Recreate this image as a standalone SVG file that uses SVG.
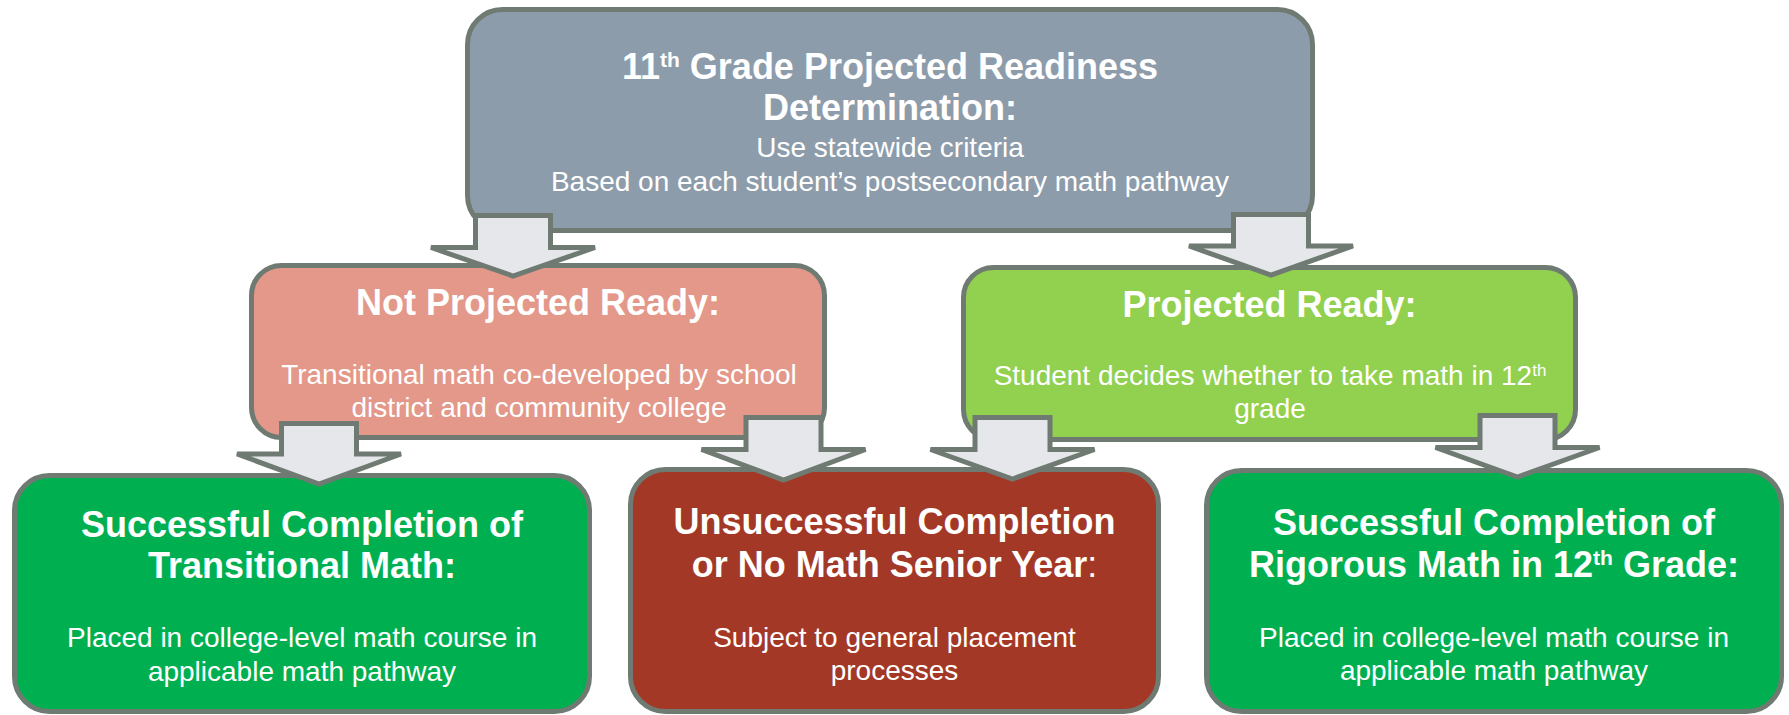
<svg xmlns="http://www.w3.org/2000/svg" width="1789" height="715" viewBox="0 0 1789 715">
<style>
.box{stroke:#6F7B72;stroke-width:5}
.arrow{fill:#E6E7EB;stroke:#6F7B72;stroke-width:5;stroke-linejoin:miter}
text{font-family:"Liberation Sans",Arial,sans-serif;fill:#FFFFFF;text-anchor:middle}
.t{font-size:36px;font-weight:bold}
.b{font-size:28px}
</style>
<rect width="1789" height="715" fill="#FFFFFF"/>
<g id="node-top">
<rect class="box" x="467.5" y="9.5" width="845" height="221" rx="35" fill="#8D9CAB"/>
<text class="t" x="890" y="79">11<tspan font-size="21" dy="-12">th</tspan><tspan dy="12"> Grade Projected Readiness</tspan></text>
<text class="t" x="890" y="120">Determination:</text>
<text class="b" x="890" y="157">Use statewide criteria</text>
<text class="b" x="890" y="191">Based on each student’s postsecondary math pathway</text>
</g>
<g id="node-not-ready">
<rect class="box" x="251.5" y="265.5" width="573" height="172" rx="30" fill="#E3988A"/>
<text class="t" x="538" y="315">Not Projected Ready:</text>
<text class="b" x="539" y="384">Transitional math co-developed by school</text>
<text class="b" x="539" y="417">district and community college</text>
</g>
<g id="node-ready">
<rect class="box" x="963.5" y="267.5" width="612" height="172" rx="30" fill="#92D050"/>
<text class="t" x="1269.5" y="317">Projected Ready:</text>
<text class="b" x="1270" y="385">Student decides whether to take math in 12<tspan font-size="17" dy="-9">th</tspan></text>
<text class="b" x="1270" y="418">grade</text>
</g>
<g id="node-transitional">
<rect class="box" x="14.5" y="475.5" width="575" height="236" rx="35" fill="#00B050"/>
<text class="t" x="302" y="537">Successful Completion of</text>
<text class="t" x="302" y="578">Transitional Math:</text>
<text class="b" x="302" y="647">Placed in college-level math course in</text>
<text class="b" x="302" y="681">applicable math pathway</text>
</g>
<g id="node-unsuccessful">
<rect class="box" x="630.5" y="469.5" width="528" height="242" rx="35" fill="#A43826"/>
<text class="t" x="894.5" y="534">Unsuccessful Completion</text>
<text class="t" x="894.5" y="577">or No Math Senior Year<tspan font-weight="normal">:</tspan></text>
<text class="b" x="894.5" y="647">Subject to general placement</text>
<text class="b" x="894.5" y="680">processes</text>
</g>
<g id="node-rigorous">
<rect class="box" x="1206.5" y="470.5" width="575" height="241" rx="35" fill="#00B050"/>
<text class="t" x="1494" y="535">Successful Completion of</text>
<text class="t" x="1494" y="577">Rigorous Math in 12<tspan font-size="21" dy="-12">th</tspan><tspan dy="12"> Grade:</tspan></text>
<text class="b" x="1494" y="647">Placed in college-level math course in</text>
<text class="b" x="1494" y="680">applicable math pathway</text>
</g>
<g id="connectors">
<path class="arrow" d="M475.5,215.5 L550.5,215.5 L550.5,247.5 L595,247.5 L513,276 L431,247.5 L475.5,247.5 Z"/>
<path class="arrow" d="M1233.5,214.5 L1308.5,214.5 L1308.5,246 L1353,246 L1271,275 L1189,246 L1233.5,246 Z"/>
<path class="arrow" d="M281.5,423.5 L356.5,423.5 L356.5,454 L401,454 L319,484 L237,454 L281.5,454 Z"/>
<path class="arrow" d="M746,417.5 L821,417.5 L821,449.5 L865.5,449.5 L783.5,480 L701.5,449.5 L746,449.5 Z"/>
<path class="arrow" d="M975,417.5 L1050,417.5 L1050,449.5 L1094.5,449.5 L1012.5,479 L930.5,449.5 L975,449.5 Z"/>
<path class="arrow" d="M1480,415.5 L1555,415.5 L1555,447.5 L1599.5,447.5 L1517.5,477 L1435.5,447.5 L1480,447.5 Z"/>
</g>
</svg>
